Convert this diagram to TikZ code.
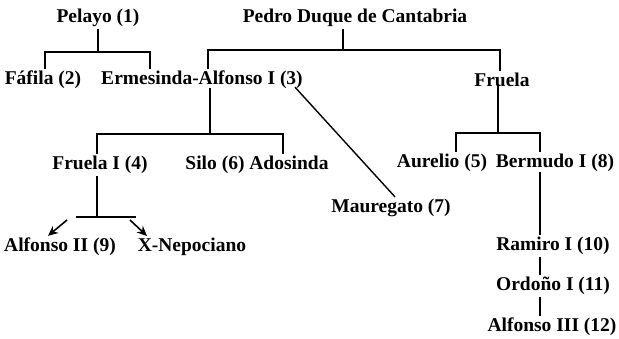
\documentclass[tikz,border=0pt]{standalone}
\usepackage{fontspec}
\setmainfont{Liberation Serif}
\usepackage{tikz}
\usetikzlibrary{arrows.meta}

\begin{document}
\begin{tikzpicture}[x=1pt, y=-1pt,
    person/.style={font=\fontsize{19.5}{22}\selectfont\bfseries, inner sep=2pt},
    link/.style={line width=1.4pt},
    child/.style={line width=1.6pt, -{Stealth[length=10pt, width=9pt]}}]
    \useasboundingbox (0,0) rectangle (619,339);
    \node[person](pelayo) at (98,18) {Pelayo (1)};
    \node[person](pedro) at (355,18) {Pedro Duque de Cantabria};
    \node[person](fafila) at (43,80) {Fáfila (2)};
    \node[person](ermesinda) at (202,80) {Ermesinda-Alfonso I (3)};
    \node[person](fruela) at (502,80) {Fruela};
    \node[person](fruelaI) at (100,165) {Fruela I (4)};
    \node[person](silo) at (257,165) {Silo (6) Adosinda};
    \node[person](aurelio) at (442,163) {Aurelio (5)};
    \node[person](bermudo) at (555,163) {Bermudo I (8)};
    \node[person](mauregato) at (391,208) {Mauregato (7)};
    \node[person](alfonsoII) at (60,247) {Alfonso II (9)};
    \node[person](nepociano) at (192,247) {X-Nepociano};
    \node[person](ramiro) at (553,246) {Ramiro I (10)};
    \node[person](ordono) at (553,286) {Ordoño I (11)};
    \node[person](alfonsoIII) at (552,327) {Alfonso III (12)};
    % bars
    \coordinate (pelayoL) at (45,52);
    \coordinate (pelayoR) at (150,52);
    \coordinate (pedroL) at (208,50);
    \coordinate (pedroR) at (500,50);
    \coordinate (ermL) at (97,134);
    \coordinate (ermR) at (283,134);
    \coordinate (fruelaL) at (456,133);
    \coordinate (fruelaR) at (540,133);
    \coordinate (fruIL) at (76,217);
    \coordinate (fruIR) at (136,217);
    \draw[link] (pelayo.south) -- (pelayo.south |- pelayoL);
    \draw[link] (pelayoL |- fafila.north) -- (pelayoL) -- (pelayoR) -- (pelayoR |- ermesinda.north);
    \draw[link] (pedro.south -| 343,0) -- (343,50);
    \draw[link] (pedroL |- ermesinda.north) -- (pedroL) -- (pedroR) -- (pedroR |- fruela.north);
    \draw[link] ([yshift=3pt]ermesinda.south -| 210,0) -- (210,134);
    \draw[link] (ermL |- fruelaI.north) -- (ermL) -- (ermR) -- (ermR |- silo.north);
    \draw[link] ([xshift=-10pt,yshift=4pt]ermesinda.south east) -- ([xshift=4pt]mauregato.north);
    \draw[link] ([yshift=3pt]fruela.south -| 498,0) -- (498,133);
    \draw[link] (fruelaL |- aurelio.north) -- (fruelaL) -- (fruelaR) -- (fruelaR |- bermudo.north);
    \draw[link] (fruelaI.south -| 97,0) -- (97,217);
    \draw[link] (fruIL) -- (fruIR);
    \draw[child] (67,220) -- ([xshift=-12pt]alfonsoII.north);
    \draw[child] (130,220) -- ([xshift=-45pt]nepociano.north);
    \draw[link] ([yshift=2pt]bermudo.south -| 540,0) -- (ramiro.north -| 540,0);
    \draw[link] (ramiro.south -| 540,0) -- (ordono.north -| 540,0);
    \draw[link] (ordono.south -| 540,0) -- (alfonsoIII.north -| 540,0);
\end{tikzpicture}
\end{document}
